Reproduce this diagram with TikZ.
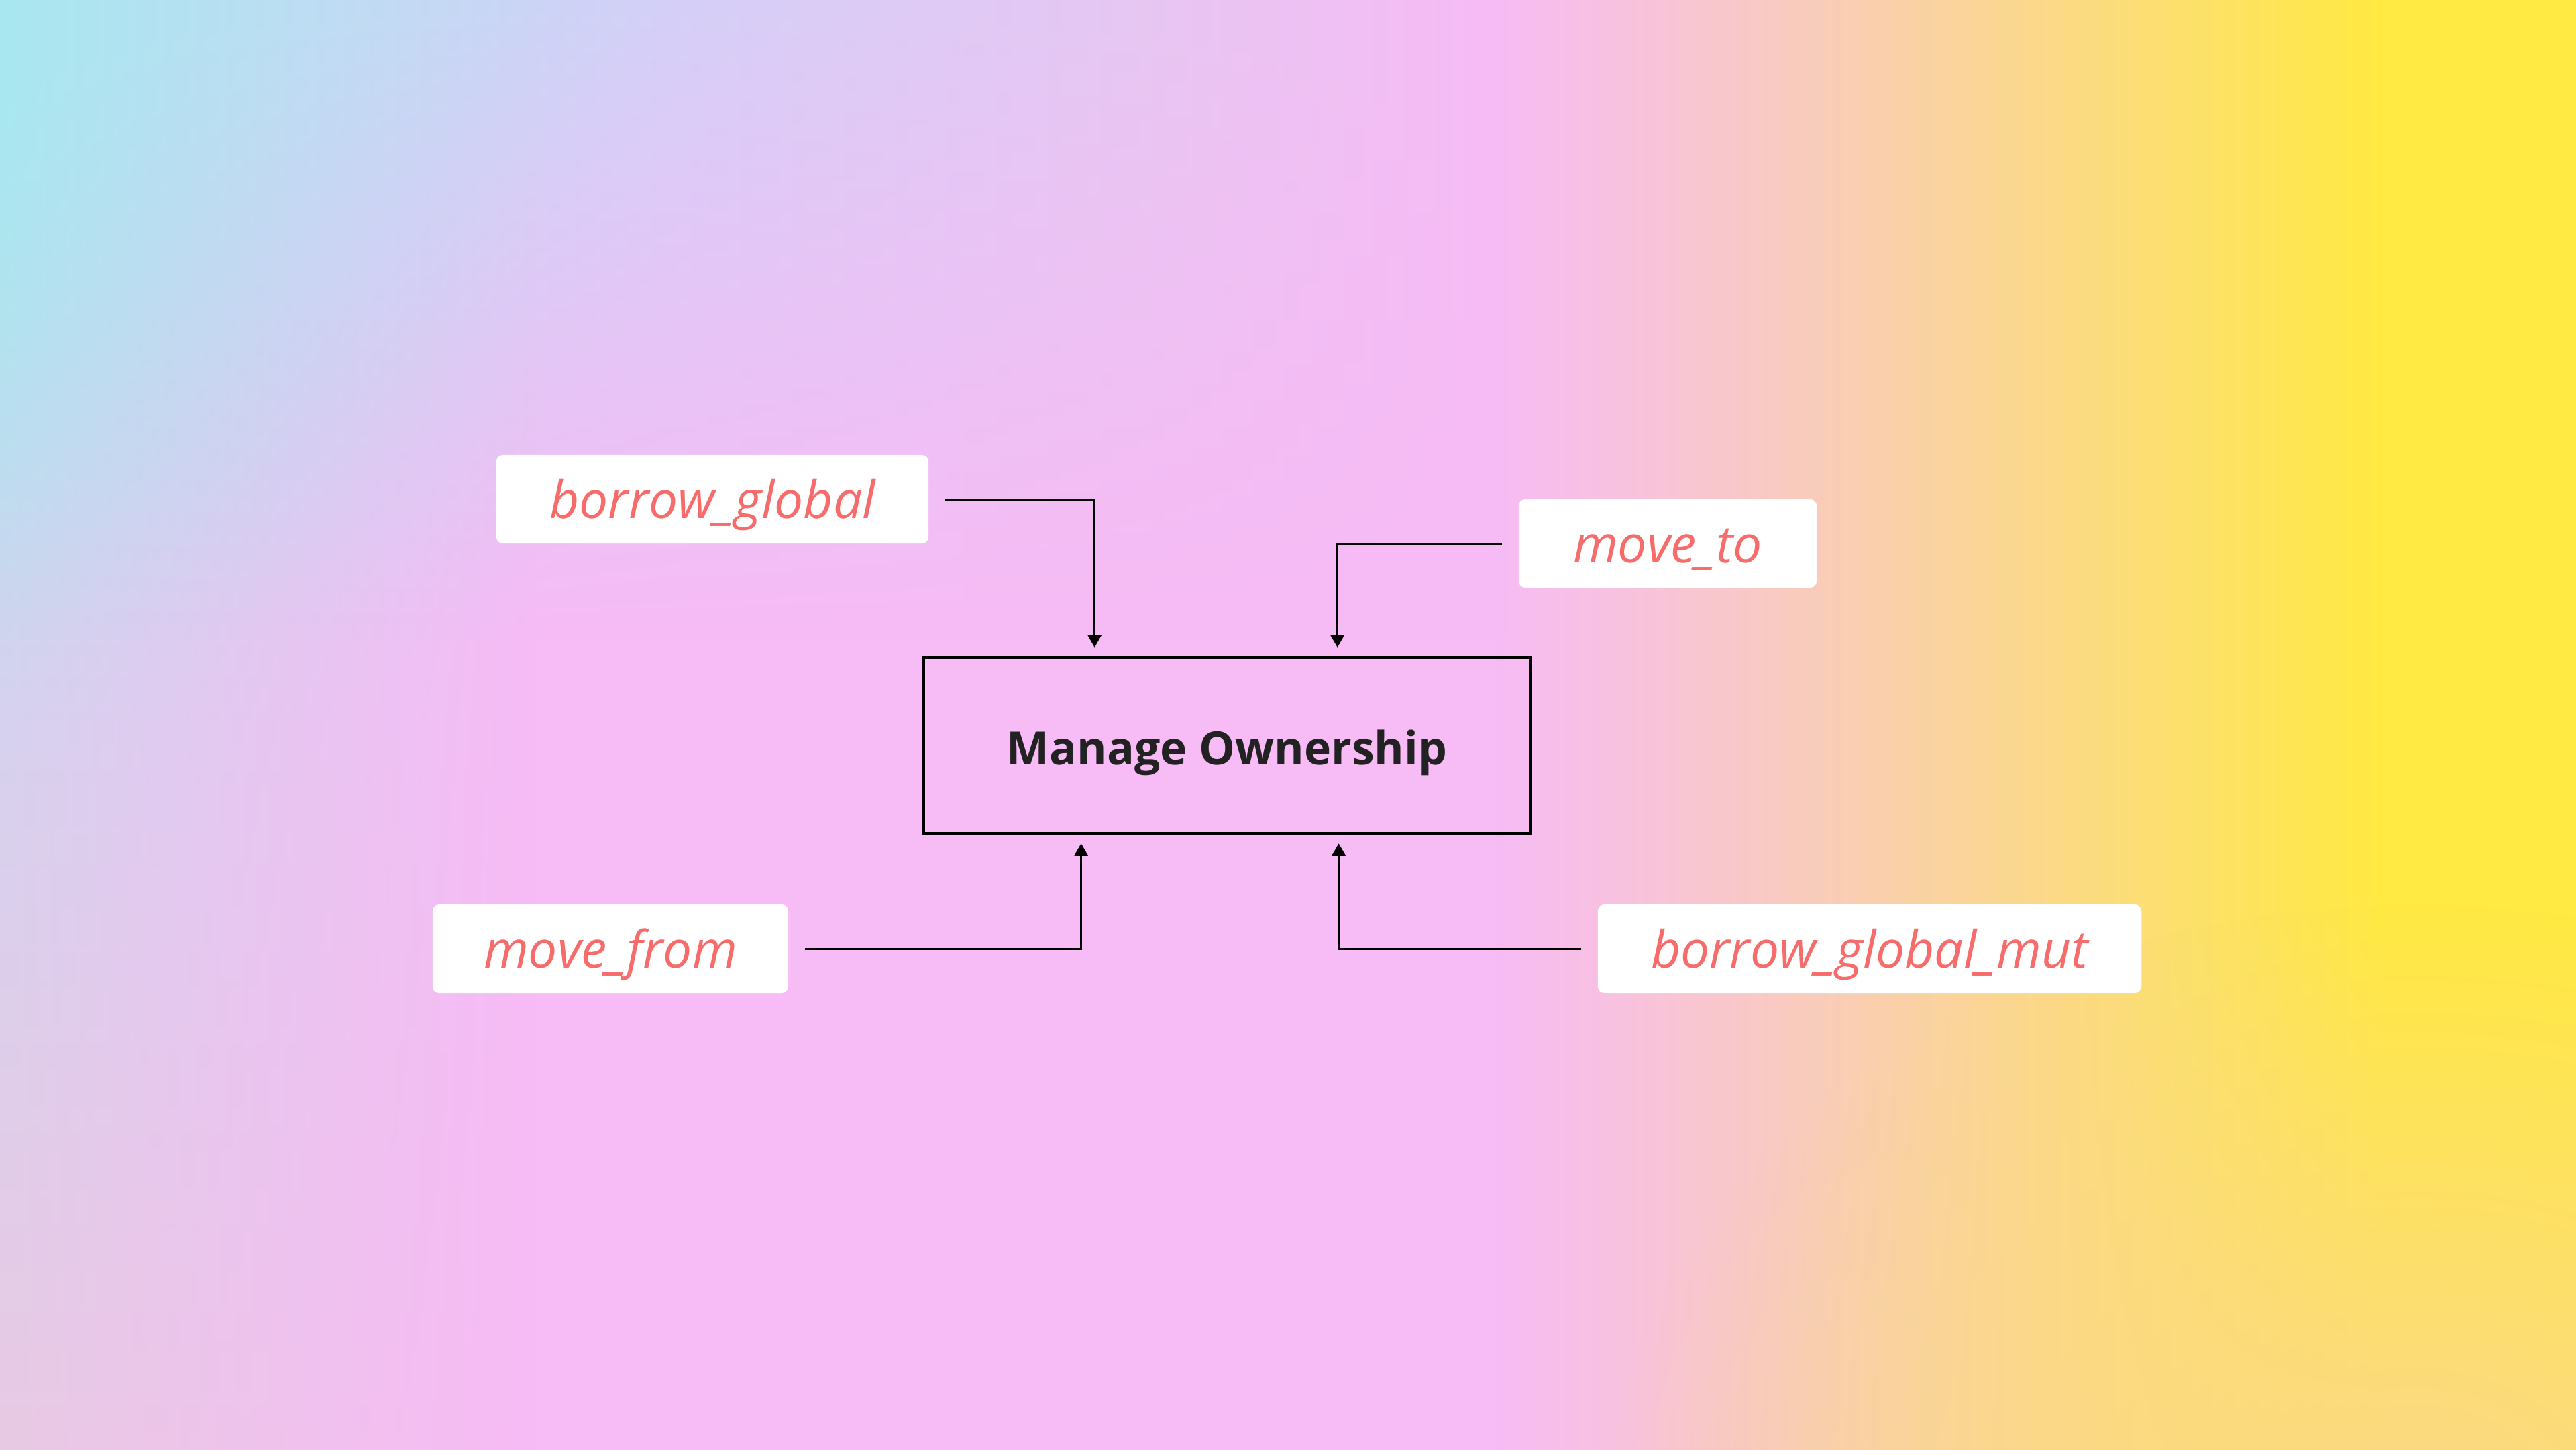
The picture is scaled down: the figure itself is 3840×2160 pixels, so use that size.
\documentclass[tikz,border=0pt]{standalone}
\usepackage{fontspec}
\setmainfont{Open Sans}
\usetikzlibrary{arrows.meta,calc,fadings}

\definecolor{bgpink}{HTML}{F7BBF5}
\definecolor{bgpeach}{HTML}{F8CAC2}
\definecolor{bgsand}{HTML}{FAD596}
\definecolor{bglemon}{HTML}{FCE06C}
\definecolor{bgyellow}{HTML}{FFE942}
\definecolor{bgamber}{HTML}{FBD888}
\definecolor{bgcyan}{HTML}{A8E8F0}
\definecolor{bgsky}{HTML}{BEDDF4}
\definecolor{bglilac}{HTML}{D4D0F8}
\definecolor{bgmauve}{HTML}{E8C6F2}
\definecolor{bgslate}{HTML}{D6D2EE}
\definecolor{bgdust}{HTML}{E8CAE4}
\definecolor{tagred}{HTML}{F76B6B}
\definecolor{ink}{HTML}{222222}

\pgfdeclarehorizontalshading{warmside}{100bp}{color(0bp)=(bgpink); color(54bp)=(bgpink);
  color(59.5bp)=(bgpeach); color(63.4bp)=(bgsand); color(67.3bp)=(bglemon);
  color(71.2bp)=(bgyellow); color(100bp)=(bgyellow)}
\pgfdeclarehorizontalshading{topglow}{100bp}{color(0bp)=(bgcyan); color(25bp)=(bgcyan);
  color(36bp)=(bgsky); color(47bp)=(bglilac); color(64bp)=(bgmauve);
  color(75bp)=(bgpink); color(100bp)=(bgpink)}
\tikzfading[name=softglow, inner color=transparent!0, outer color=transparent!100]

\begin{document}
\begin{tikzpicture}[x=0.01cm, y=-0.01cm,
    tag/.style={fill=white, rounded corners=2.8pt, minimum height=1.32cm, inner sep=0pt,
      text=tagred, text height=0.56cm, text depth=0cm,
      font=\fontsize{21.8}{26}\selectfont\itshape},
    hub/.style={draw=black, line width=1.2pt, minimum width=9.04cm, minimum height=2.62cm,
      inner sep=0pt, text=ink, text height=0.56cm, text depth=0cm,
      font=\fontsize{19.3}{23}\selectfont\bfseries},
    feed/.style={line width=0.85pt, -{Triangle[length=5.2pt, width=5.8pt]},
      shorten <=0.24cm, shorten >=0.13cm}]
        % Background
        \useasboundingbox (0,0) rectangle (3840,2160);
        \clip (0,0) rectangle (3840,2160);
        \shade[shading=warmside] (0,0) rectangle (3840,2160);
        \shade[top color=bgcyan, bottom color=bgdust, middle color=bgslate, path fading=east]
          (0,0) rectangle (800,2160);
        \shade[shading=topglow, path fading=south] (0,0) rectangle (2250,950);
        \fill[bgamber, path fading=softglow] (3600,2250) ellipse [x radius=12cm, y radius=9cm];

        % Ownership box
        \node[hub] (own) at (1829,1111) {Manage Ownership};

        \node[tag, minimum width=6.44cm] (bglob) at (1062,744) {borrow\_global};
        \node[tag, minimum width=4.44cm] (mto) at (2486,810) {move\_to};
        \node[tag, minimum width=5.30cm] (mfrom) at (910,1414) {move\_from};
        \node[tag, minimum width=8.10cm] (bglobm) at (2787,1414) {borrow\_global\_mut};

        \coordinate (in1) at ($(own.north west)+(257,0)$);
        \coordinate (in2) at ($(own.north west)+(619,0)$);
        \coordinate (in3) at ($(own.south west)+(237,0)$);
        \coordinate (in4) at ($(own.south west)+(621,0)$);

        \draw[feed] (bglob.east) -| (in1);
        \draw[feed] (mto.west) -| (in2);
        \draw[feed] (mfrom.east) -| (in3);
        \draw[feed] (bglobm.west) -| (in4);
      \end{tikzpicture}
\end{document}
